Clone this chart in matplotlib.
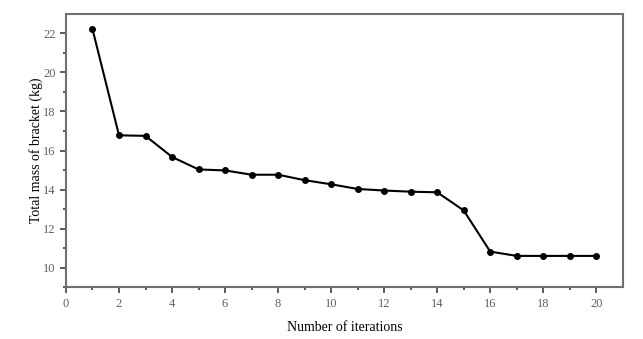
import numpy as np
import matplotlib.pyplot as plt

plt.rcParams['font.family'] = ['Liberation Serif', 'DejaVu Serif']

# Datos
iterations = [1, 2, 3, 4, 5, 6, 7, 8, 9, 10, 11, 12, 13, 14, 15, 16, 17, 18, 19, 20]
mass = [22.22, 16.78, 16.75, 15.67, 15.03, 14.98, 14.76, 14.76, 14.48, 14.27,
        14.03, 13.95, 13.89, 13.86, 12.93, 10.82, 10.6, 10.6, 10.6, 10.6]

fig = plt.figure(figsize=(6.43, 3.39), dpi=100)
ax = fig.add_axes([0.1026, 0.153, 0.866, 0.806])

ax.plot(iterations, mass, color='black', linestyle='-', linewidth=1.5,
        marker='o', markersize=4)

ax.set_xlim(0, 21)
ax.set_ylim(9, 23)
ax.set_xticks(np.arange(0, 21, 2))
ax.set_xticks(np.arange(1, 21, 2), minor=True)
ax.set_yticks(np.arange(10, 23, 2))
ax.set_yticks(np.arange(9, 23, 2), minor=True)

for s in ax.spines.values():
    s.set_color('#707070')
    s.set_linewidth(1.5)

ax.tick_params(which='both', direction='out', color='#404040', labelcolor='#606060',
               labelsize=9, width=1.2)
ax.tick_params(which='major', length=4)
ax.tick_params(which='minor', length=2.5)

ax.set_xlabel("Number of iterations", fontsize=10, labelpad=8)
ax.set_ylabel("Total mass of bracket (kg)", fontsize=10, labelpad=0)

plt.savefig("out.png", dpi=100)
